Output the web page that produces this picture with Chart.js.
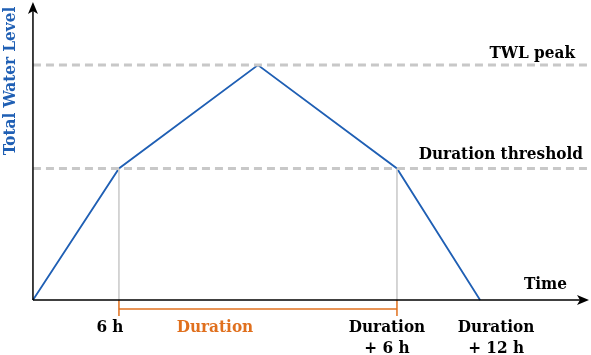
<!DOCTYPE html>
<html><head><meta charset="utf-8">
<script src="https://cdn.jsdelivr.net/npm/chart.js@4/dist/chart.umd.min.js"></script>
<style>html,body{margin:0;padding:0;background:#fff}#wrap{width:591px;height:355px}</style>
</head><body><div id="wrap"><canvas id="c" width="591" height="355"></canvas></div>
<script>
// Data
const times = [0, 6, 15.7, 25.4, 31.2];
const levels = [0, 0.56, 1, 0.56, 0];
const thresholdLevel = 0.56;
const peakLevel = 1;
const durationStart = 6;
const durationEnd = 25.4;
const tickTimes = [6, 25.4, 31.2];
const tickLabels = [["6 h"], ["Duration", "+ 6 h"], ["Duration", "+ 12 h"]];
const lineLabels = ["TWL peak", "Duration threshold"];
const axisTitles = {x: "Time", y: "Total Water Level"};

const X_MIN = -2.3, X_MAX = 38.94, Y_MIN = -0.234, Y_MAX = 1.277;
const BLUE = '#1f5fb4', GRAY = '#c8c8c8', ORANGE = '#e0701e';
const FONT = 'bold 17px "DejaVu Serif Condensed", "DejaVu Serif", serif';

const overlay = {
  id: 'overlay',
  afterDatasetsDraw(chart) {
    const ctx = chart.ctx, xs = chart.scales.x, ys = chart.scales.y;
    const x0 = xs.getPixelForValue(0), y0 = ys.getPixelForValue(0);
    ctx.save();
    ctx.strokeStyle = '#000'; ctx.fillStyle = '#000'; ctx.lineWidth = 1.5;
    // axes
    const xEnd = 589, yTop = 2;
    ctx.beginPath(); ctx.moveTo(x0, y0); ctx.lineTo(xEnd - 5, y0); ctx.stroke();
    ctx.beginPath(); ctx.moveTo(x0, y0); ctx.lineTo(x0, yTop + 5); ctx.stroke();
    // arrowheads
    ctx.beginPath(); ctx.moveTo(xEnd, y0); ctx.lineTo(xEnd - 12, y0 - 5); ctx.lineTo(xEnd - 9, y0); ctx.lineTo(xEnd - 12, y0 + 5); ctx.closePath(); ctx.fill();
    ctx.beginPath(); ctx.moveTo(x0, yTop); ctx.lineTo(x0 - 5, yTop + 12); ctx.lineTo(x0, yTop + 9); ctx.lineTo(x0 + 5, yTop + 12); ctx.closePath(); ctx.fill();
    // texts
    ctx.font = FONT; ctx.textBaseline = 'alphabetic';
    ctx.textAlign = 'right';
    ctx.fillText(lineLabels[0], 575, ys.getPixelForValue(peakLevel) - 7);
    ctx.fillText(lineLabels[1], 583, ys.getPixelForValue(thresholdLevel) - 9);
    ctx.fillText(axisTitles.x, 567, y0 - 11);
    ctx.textAlign = 'center';
    const offs = [-9, -10, 16];
    tickTimes.forEach((t, i) => {
      const px = xs.getPixelForValue(t) + offs[i];
      tickLabels[i].forEach((s, j) => ctx.fillText(s, px, y0 + 32 + j * 21));
    });
    ctx.fillStyle = ORANGE;
    ctx.fillText('Duration', (xs.getPixelForValue(durationStart) + xs.getPixelForValue(durationEnd)) / 2 - 43, y0 + 32);
    // y title
    ctx.fillStyle = BLUE;
    ctx.translate(15, 81); ctx.rotate(-Math.PI / 2);
    ctx.fillText(axisTitles.y, 0, 0);
    ctx.restore();
  }
};

const vline = (t, yTo) => [{x: t, y: thresholdLevel}, {x: t, y: yTo}];
new Chart(document.getElementById('c'), {
  type: 'scatter',
  data: {
    datasets: [
      {data: [{x: 0, y: peakLevel}, {x: X_MAX, y: peakLevel}], showLine: true, borderColor: GRAY, borderWidth: 3, borderDash: [8, 5], pointRadius: 0},
      {data: [{x: 0, y: thresholdLevel}, {x: X_MAX, y: thresholdLevel}], showLine: true, borderColor: GRAY, borderWidth: 3, borderDash: [8, 5], pointRadius: 0},
      {data: vline(durationStart, 0), showLine: true, borderColor: GRAY, borderWidth: 1.5, pointRadius: 0},
      {data: vline(durationEnd, 0), showLine: true, borderColor: GRAY, borderWidth: 1.5, pointRadius: 0},
      {data: [{x: durationStart, y: 0}, {x: durationStart, y: -0.068}], showLine: true, borderColor: ORANGE, borderWidth: 1.5, pointRadius: 0},
      {data: [{x: durationEnd, y: 0}, {x: durationEnd, y: -0.068}], showLine: true, borderColor: ORANGE, borderWidth: 1.5, pointRadius: 0},
      {data: [{x: durationStart, y: -0.038}, {x: durationEnd, y: -0.038}], showLine: true, borderColor: ORANGE, borderWidth: 1.5, pointRadius: 0},
      {data: times.map((t, i) => ({x: t, y: levels[i]})), showLine: true, borderColor: BLUE, borderWidth: 1.8, pointRadius: 0, tension: 0}
    ]
  },
  options: {
    responsive: false, animation: false, events: [],
    layout: {padding: 0},
    plugins: {legend: {display: false}, tooltip: {enabled: false}},
    scales: {
      x: {type: 'linear', min: X_MIN, max: X_MAX, display: false},
      y: {type: 'linear', min: Y_MIN, max: Y_MAX, display: false}
    }
  },
  plugins: [overlay]
});
</script></body></html>
